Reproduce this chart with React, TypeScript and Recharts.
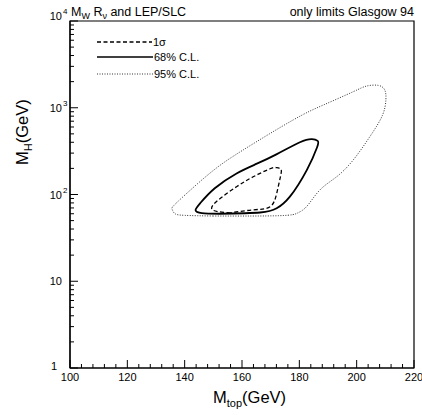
import { LineChart, Line, XAxis, YAxis, ReferenceArea } from 'recharts'

// M_top (GeV) / M_H (GeV) contour points (closed loops)
const sigma1Mt = [156.0, 151.5, 149.4, 151.7, 158.1, 163.9, 169.8, 172.0, 173.6, 173.4, 172.1, 169.8, 163.9, 156.0]
const sigma1Mh = [61.5, 63.5, 69.3, 86.4, 123, 160, 198, 204, 195, 160, 103, 72.3, 66.5, 61.5]

const cl68Mt = [152.0, 146.0, 143.8, 145.5, 150.5, 158.1, 165.0, 172.0, 180.2, 184.4, 186.4, 186.2, 182.6, 176.7, 172.1, 166.3, 152.0]
const cl68Mh = [60.0, 61.0, 66.0, 80, 118, 175, 225, 290, 400, 435, 415, 350, 191, 94.4, 69.3, 62.0, 60.0]

const cl95Mt = [150.0, 140.0, 136.5, 135.6, 137.8, 148.8, 160.4, 177.8, 188.4, 198.8, 203.5, 207.6, 209.8, 210.2, 209.0, 204.6, 198.8, 193.0, 187.2, 182.6, 179.3, 173.0, 150.0]
const cl95Mh = [56.5, 57.5, 60.5, 68, 84, 176, 326, 722, 1076, 1531, 1780, 1810, 1600, 1250, 820, 464, 250, 160, 113, 73, 61, 57, 56.5]

const xTicks = [100, 104, 108, 112, 116, 120, 124, 128, 132, 136, 140, 144, 148, 152, 156, 160, 164, 168, 172, 176, 180, 184, 188, 192, 196, 200, 204, 208, 212, 216, 220]
const yTicks = [1, 2, 3, 4, 5, 6, 7, 8, 9, 10, 20, 30, 40, 50, 60, 70, 80, 90, 100, 200, 300, 400, 500, 600, 700, 800, 900, 1000, 2000, 3000, 4000, 5000, 6000, 7000, 8000, 9000, 10000]

const toPoints = (mt: number[], mh: number[]) => mt.map((m, i) => ({ mt: m, mh: mh[i] }))

const FONT = '"Liberation Sans", Arial, sans-serif'

function XTick({ x, y, payload }: any) {
  const v = payload.value
  const major = v % 20 === 0
  return (
    <g>
      <line x1={x} x2={x} y1={y} y2={y - (major ? 8 : 4)} stroke="#000" />
      {major && (
        <text x={x} y={y + 13} textAnchor="middle" fontSize={11} fontFamily={FONT} fill="#000">
          {v}
        </text>
      )}
    </g>
  )
}

function YTick({ x, y, payload }: any) {
  const v = payload.value
  const lg = Math.log10(v)
  const exp = Math.round(lg)
  const major = Math.abs(lg - exp) < 1e-6
  const shift = exp === 4 ? -5 : 0
  return (
    <g>
      <line x1={x} x2={x + (major ? 8 : 4)} y1={y} y2={y} stroke="#000" />
      {major && exp === 0 && (
        <text x={x - 13} y={y + 2} textAnchor="end" fontSize={11} fontFamily={FONT} fill="#000">1</text>
      )}
      {major && exp >= 1 && (
        <text x={x - 8} y={y + 4 + shift} textAnchor="end" fontSize={11} fontFamily={FONT} fill="#000">10</text>
      )}
      {major && exp >= 2 && (
        <text x={x - 7} y={y - 2 + shift} fontSize={8} fontFamily={FONT} fill="#000">{exp}</text>
      )}
    </g>
  )
}

export default function App() {
  return (
    <div style={{ position: 'absolute', left: 0, top: 0, width: 422, height: 415, background: '#fff', fontFamily: FONT, overflow: 'hidden' }}>
      <LineChart width={422} height={415} margin={{ top: 21, right: 8, left: 10, bottom: 17 }}>
        <XAxis
          type="number"
          dataKey="mt"
          domain={[100, 220]}
          ticks={xTicks}
          interval={0}
          allowDataOverflow
          height={30}
          tickSize={0}
          tickMargin={0}
          tickLine={false}
          axisLine={{ stroke: '#000', strokeWidth: 1.2 }}
          tick={<XTick />}
        />
        <YAxis
          type="number"
          dataKey="mh"
          scale="log"
          domain={[1, 10000]}
          ticks={yTicks}
          interval={0}
          allowDataOverflow
          width={60}
          tickSize={0}
          tickMargin={0}
          tickLine={false}
          axisLine={{ stroke: '#000', strokeWidth: 1.2 }}
          tick={<YTick />}
        />
        <ReferenceArea x1={100} x2={220} y1={1} y2={10000} fill="none" stroke="#000" strokeWidth={1.2} />
        <Line
          data={toPoints(cl95Mt, cl95Mh)}
          dataKey="mh"
          type="natural"
          stroke="#333"
          strokeWidth={1}
          strokeDasharray="1 1.5"
          dot={false}
          isAnimationActive={false}
        />
        <Line
          data={toPoints(cl68Mt, cl68Mh)}
          dataKey="mh"
          type="natural"
          stroke="#000"
          strokeWidth={1.8}
          dot={false}
          isAnimationActive={false}
        />
        <Line
          data={toPoints(sigma1Mt, sigma1Mh)}
          dataKey="mh"
          type="natural"
          stroke="#000"
          strokeWidth={1.3}
          strokeDasharray="4 2.5"
          dot={false}
          isAnimationActive={false}
        />
      </LineChart>
      <svg width={422} height={415} style={{ position: 'absolute', left: 0, top: 0, pointerEvents: 'none' }}>
        <text x={71} y={16} fontSize={12.5} fontFamily={FONT} fill="#000">
          M<tspan dy={3} fontSize={9}>W</tspan>
          <tspan dy={-3}> R</tspan>
          <tspan dy={3} fontSize={9}>ν</tspan>
          <tspan dy={-3}> and LEP/SLC</tspan>
        </text>
        <text x={414} y={16} textAnchor="end" fontSize={12.5} fontFamily={FONT} fill="#000">
          only limits Glasgow 94
        </text>

        <line x1={97} x2={152} y1={42} y2={42} stroke="#000" strokeWidth={1.3} strokeDasharray="4 2.5" />
        <text x={153} y={45.5} fontSize={11} fontFamily={FONT} fill="#000">1σ</text>
        <line x1={97} x2={153} y1={57} y2={57} stroke="#000" strokeWidth={1.6} />
        <text x={154} y={61} fontSize={11} fontFamily={FONT} fill="#000">68% C.L.</text>
        <line x1={97} x2={153} y1={74} y2={74} stroke="#333" strokeWidth={1} strokeDasharray="1 1.5" />
        <text x={154} y={78} fontSize={11} fontFamily={FONT} fill="#000">95% C.L.</text>

        <text x={213} y={403} fontSize={16.5} fontFamily={FONT} fill="#000">
          M<tspan dy={4} fontSize={11}>top</tspan>
          <tspan dy={-4}>(GeV)</tspan>
        </text>
        <text transform="translate(28,165) rotate(-90)" fontSize={16.5} fontFamily={FONT} fill="#000">
          M<tspan dy={4} fontSize={11}>H</tspan>
          <tspan dy={-4}>(GeV)</tspan>
        </text>
      </svg>
    </div>
  )
}
